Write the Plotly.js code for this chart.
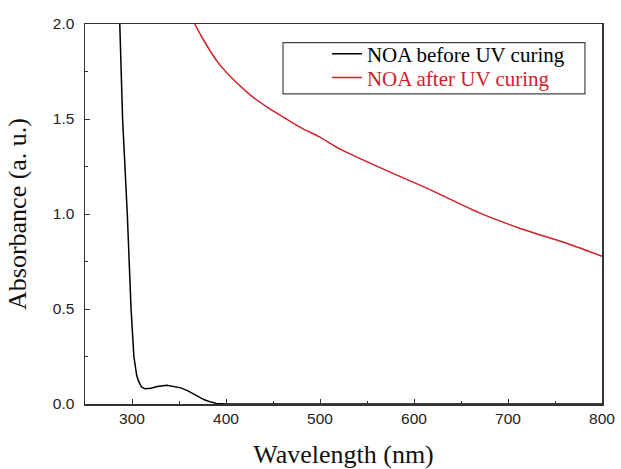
<!DOCTYPE html>
<html>
<head>
<meta charset="utf-8">
<script src="https://cdn.plot.ly/plotly-3.0.1.min.js"></script>
<style>html,body{margin:0;padding:0;background:#fff}#chart{width:621px;height:469px}</style>
</head>
<body>
<div id="chart"></div>
<script>
// NOA before UV curing
const beforeWl  = [284, 287, 290, 295, 299, 302, 305, 307, 310, 314, 320, 327, 337, 345, 352, 360, 369, 377, 384, 390, 400, 450, 500, 600, 700, 800];
const beforeAbs = [2.3, 2.0, 1.5, 1.0, 0.5, 0.25, 0.15, 0.12, 0.09, 0.08, 0.083, 0.092, 0.098, 0.092, 0.085, 0.068, 0.045, 0.022, 0.01, 0.003, 0.0, 0.0, 0.0, 0.0, 0.0, 0.0];
// NOA after UV curing
const afterWl  = [358, 366.8, 378, 392, 410, 428, 445.5, 463, 481, 499, 521, 568, 614, 671, 713, 763, 800];
const afterAbs = [2.09, 2.0, 1.90, 1.794, 1.697, 1.618, 1.557, 1.504, 1.451, 1.407, 1.343, 1.235, 1.135, 1.003, 0.924, 0.845, 0.778];
const seriesNames = ["NOA before UV curing", "NOA after UV curing"];
const seriesColors = ["#000000", "#d0202a"];
const xTicks = [300, 400, 500, 600, 700, 800];
const yTicks = [0, 0.5, 1.0, 1.5, 2.0];

const traces = [
  {x: beforeWl, y: beforeAbs, name: seriesNames[0], mode: 'lines', line: {color: seriesColors[0], width: 1.5}, legend: 'legend'},
  {x: afterWl, y: afterAbs, name: '<span style="color:' + seriesColors[1] + '">' + seriesNames[1] + '</span>', mode: 'lines', line: {color: seriesColors[1], width: 1.5, shape: 'spline', smoothing: 0.8}, legend: 'legend2'}
];
const axisCommon = {
  showgrid: false, zeroline: false, showline: true, linecolor: '#333', linewidth: 1.5,
  mirror: true, ticks: 'inside', ticklen: 5, tickwidth: 1, tickcolor: '#333',
  tickfont: {family: 'Liberation Sans, Arial, sans-serif', size: 15.5, color: '#222'}
};
const serif = 'Liberation Serif, Times New Roman, serif';
const legendCommon = {
  xanchor: 'left', yanchor: 'top', borderwidth: 0, bgcolor: 'rgba(0,0,0,0)',
  font: {family: serif, size: 21, color: '#000'}
};
const layout = {
  width: 621, height: 469,
  margin: {l: 85, r: 19, t: 24, b: 65},
  paper_bgcolor: '#fff', plot_bgcolor: '#fff',
  showlegend: true,
  legend: Object.assign({}, legendCommon, {x: 0.468, y: 0.975}),
  legend2: Object.assign({}, legendCommon, {x: 0.468, y: 0.912}),
  shapes: [{
    type: 'rect', xref: 'paper', yref: 'paper',
    x0: 0.383, x1: 0.967, y0: 0.816, y1: 0.951,
    line: {color: '#444', width: 1.2}, fillcolor: 'rgba(0,0,0,0)', layer: 'above'
  }],
  xaxis: Object.assign({}, axisCommon, {
    range: [250, 800], tickvals: xTicks, ticktext: xTicks.map(String),
    minor: {dtick: 50, ticks: 'inside', ticklen: 3, tickcolor: '#333'},
    title: {text: 'Wavelength (nm)', standoff: 21, font: {family: serif, size: 26, color: '#111'}}
  }),
  yaxis: Object.assign({}, axisCommon, {
    range: [0, 2.0], tickvals: yTicks, ticktext: yTicks.map(v => v.toFixed(1)),
    ticklabelstandoff: 6,
    minor: {dtick: 0.25, ticks: 'inside', ticklen: 3, tickcolor: '#333'},
    title: {text: 'Absorbance (a. u.)', standoff: 18, font: {family: serif, size: 26, color: '#111'}}
  })
};
Plotly.newPlot('chart', traces, layout, {displayModeBar: false, staticPlot: true});
</script>
</body>
</html>
